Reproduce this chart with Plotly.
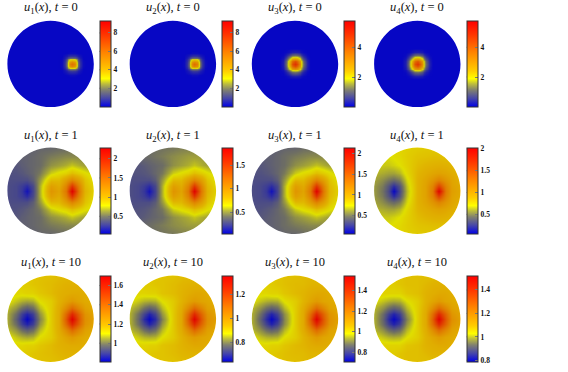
import plotly.graph_objects as go

W, H = 568, 372
DISC_R = 43.2
BAR_LEN = 85.5
CENTERS_X = [50.6, 172.9, 295.0, 417.3]
CENTERS_Y = [63.9, 190.8, 318.7]
BAR_LEFT = [99.5, 222.0, 344.2, 466.7]
TITLE_Y = [8, 136, 263]
TIMES = [0, 1, 10]
SERIF = "Liberation Serif"

# Coordinates of the sampled values (upper half; the fields mirror about y = 0)
X_FIELD = [-1, -.8, -.66, -.54, -.42, -.25, 0, .2, .35, .5, .65, .8, 1]
Y_FIELD = [0, .12, .25, .42, .6, .8, 1]
X_T0_RIGHT = [-1, .17, .25, .33, .37, .4, .45, .5, .55, .6, .63, .67, .75, .83, 1]
Y_T0_RIGHT = [0, .05, .1, .13, .17, .25, .33, 1]
X_T0_CENTER = [-1, -.36, -.28, -.2, -.15, -.11, -.06, 0, .06, .11, .15, .2, .28, .36, 1]
Y_T0_CENTER = [0, .06, .11, .15, .2, .28, .36, 1]

U1_T0 = [[.1, .1, .2, .8, 1.8, 3.2, 5.3, 6, 5.3, 3.2, 1.8, .8, .2, .1, .1],
         [.1, .1, .2, .75, 1.7, 3, 4.8, 5.3, 4.8, 3, 1.7, .75, .2, .1, .1],
         [.1, .1, .15, .6, 1.2, 2.2, 3, 3.2, 3, 2.2, 1.2, .6, .15, .1, .1],
         [.1, .1, .15, .45, .85, 1.2, 1.7, 1.8, 1.7, 1.2, .85, .45, .15, .1, .1],
         [.1, .1, .12, .3, .45, .6, .75, .8, .75, .6, .45, .3, .12, .1, .1],
         [.1, .1, .1, .12, .15, .15, .2, .2, .2, .15, .15, .12, .1, .1, .1],
         [.1, .1, .1, .1, .1, .1, .1, .1, .1, .1, .1, .1, .1, .1, .1],
         [.1, .1, .1, .1, .1, .1, .1, .1, .1, .1, .1, .1, .1, .1, .1]]
U2_T0 = [[.1, .1, .2, .8, 1.8, 3.3, 5.4, 6.1, 5.4, 3.3, 1.8, .8, .2, .1, .1],
         [.1, .1, .2, .75, 1.7, 3.1, 4.9, 5.4, 4.9, 3.1, 1.7, .75, .2, .1, .1],
         [.1, .1, .15, .6, 1.2, 2.2, 3.1, 3.3, 3.1, 2.2, 1.2, .6, .15, .1, .1],
         [.1, .1, .15, .45, .85, 1.2, 1.7, 1.8, 1.7, 1.2, .85, .45, .15, .1, .1],
         [.1, .1, .12, .3, .45, .6, .75, .8, .75, .6, .45, .3, .12, .1, .1],
         [.1, .1, .1, .12, .15, .15, .2, .2, .2, .15, .15, .12, .1, .1, .1],
         [.1, .1, .1, .1, .1, .1, .1, .1, .1, .1, .1, .1, .1, .1, .1],
         [.1, .1, .1, .1, .1, .1, .1, .1, .1, .1, .1, .1, .1, .1, .1]]
U3_T0 = [[.06, .06, .3, 1.1, 2, 3, 4.3, 4.8, 4.3, 3, 2, 1.1, .3, .06, .06],
         [.06, .06, .28, 1, 1.9, 2.8, 3.8, 4.3, 3.8, 2.8, 1.9, 1, .28, .06, .06],
         [.06, .06, .22, .75, 1.4, 2, 2.8, 3, 2.8, 2, 1.4, .75, .22, .06, .06],
         [.06, .06, .15, .5, .95, 1.4, 1.9, 2, 1.9, 1.4, .95, .5, .15, .06, .06],
         [.06, .06, .1, .3, .5, .75, 1, 1.1, 1, .75, .5, .3, .1, .06, .06],
         [.06, .06, .06, .1, .15, .22, .28, .3, .28, .22, .15, .1, .06, .06, .06],
         [.06, .06, .06, .06, .06, .06, .06, .06, .06, .06, .06, .06, .06, .06, .06],
         [.06, .06, .06, .06, .06, .06, .06, .06, .06, .06, .06, .06, .06, .06, .06]]
U4_T0 = [[.06, .06, .3, 1.1, 2, 3, 4.2, 4.7, 4.2, 3, 2, 1.1, .3, .06, .06],
         [.06, .06, .28, 1, 1.9, 2.8, 3.7, 4.2, 3.7, 2.8, 1.9, 1, .28, .06, .06],
         [.06, .06, .22, .75, 1.4, 2, 2.8, 3, 2.8, 2, 1.4, .75, .22, .06, .06],
         [.06, .06, .15, .5, .95, 1.4, 1.9, 2, 1.9, 1.4, .95, .5, .15, .06, .06],
         [.06, .06, .1, .3, .5, .75, 1, 1.1, 1, .75, .5, .3, .1, .06, .06],
         [.06, .06, .06, .1, .15, .22, .28, .3, .28, .22, .15, .1, .06, .06, .06],
         [.06, .06, .06, .06, .06, .06, .06, .06, .06, .06, .06, .06, .06, .06, .06],
         [.06, .06, .06, .06, .06, .06, .06, .06, .06, .06, .06, .06, .06, .06, .06]]

U1_T1 = [[.34, .32, .25, .12, .3, .67, 1.21, 1.1, 1.43, 2.26, 1.43, .99, .85],
         [.34, .32, .27, .21, .32, .67, 1.14, 1.05, 1.34, 1.88, 1.34, .96, .83],
         [.34, .34, .34, .34, .41, .61, .96, .96, 1.14, 1.34, 1.14, .92, .79],
         [.36, .36, .38, .41, .45, .52, .74, .81, .85, .94, .87, .81, .72],
         [.38, .38, .41, .43, .45, .47, .59, .63, .67, .72, .67, .63, .61],
         [.41, .41, .43, .43, .45, .47, .52, .54, .56, .56, .56, .54, .54],
         [.43, .43, .43, .43, .43, .45, .45, .47, .47, .5, .5, .5, .5]]
U2_T1 = [[.28, .26, .2, .1, .24, .55, 1.0, .9, 1.17, 1.85, 1.17, .81, .7],
         [.28, .26, .22, .17, .26, .55, .94, .86, 1.1, 1.54, 1.1, .79, .68],
         [.28, .28, .28, .28, .33, .5, .79, .79, .94, 1.1, .94, .75, .64],
         [.3, .3, .31, .33, .37, .42, .61, .66, .7, .77, .72, .66, .59],
         [.31, .31, .33, .35, .37, .39, .48, .52, .55, .59, .55, .52, .5],
         [.36, .37, .38, .39, .41, .43, .47, .49, .51, .51, .51, .49, .49],
         [.38, .38, .38, .39, .4, .41, .42, .44, .44, .46, .46, .46, .46]]
U3_T1 = [[.33, .31, .25, .12, .29, .64, 1.14, 1.04, 1.35, 2.12, 1.35, .93, .81],
         [.33, .31, .27, .21, .31, .64, 1.08, 1.0, 1.27, 1.77, 1.27, .91, .79],
         [.33, .33, .33, .33, .39, .58, .91, .91, 1.08, 1.27, 1.08, .87, .75],
         [.35, .35, .37, .39, .43, .5, .7, .77, .81, .89, .83, .77, .68],
         [.37, .37, .39, .41, .43, .46, .56, .6, .64, .68, .64, .6, .58],
         [.39, .39, .41, .41, .43, .46, .5, .52, .54, .54, .54, .52, .52],
         [.41, .41, .41, .41, .41, .43, .43, .46, .46, .48, .48, .48, .48]]
U4_T1 = [[.55, .45, .3, .08, .3, .62, .9, 1.0, 1.25, 1.98, 1.25, 1.02, .95],
         [.55, .47, .34, .2, .34, .64, .9, 1.0, 1.2, 1.6, 1.2, 1.0, .93],
         [.58, .52, .46, .42, .48, .68, .9, .98, 1.08, 1.2, 1.08, .98, .9],
         [.62, .6, .58, .58, .62, .74, .88, .93, .97, 1.0, .97, .93, .87],
         [.66, .66, .66, .68, .71, .77, .85, .88, .9, .91, .9, .87, .83],
         [.68, .69, .7, .72, .74, .78, .82, .83, .84, .84, .83, .82, .8],
         [.7, .72, .72, .74, .75, .77, .79, .8, .8, .8, .8, .8, .78]]

U1_T10 = [[1.05, .96, .875, .82, .875, 1.01, 1.14, 1.21, 1.44, 1.69, 1.45, 1.29, 1.24],
          [1.05, .98, .9, .86, .9, 1.03, 1.14, 1.21, 1.4, 1.58, 1.42, 1.28, 1.23],
          [1.07, 1.03, .98, .955, .98, 1.07, 1.14, 1.205, 1.3, 1.4, 1.31, 1.24, 1.21],
          [1.11, 1.08, 1.06, 1.05, 1.06, 1.11, 1.14, 1.19, 1.23, 1.26, 1.23, 1.21, 1.2],
          [1.12, 1.12, 1.12, 1.13, 1.13, 1.15, 1.17, 1.19, 1.2, 1.21, 1.21, 1.2, 1.2],
          [1.13, 1.13, 1.14, 1.14, 1.15, 1.16, 1.17, 1.18, 1.19, 1.19, 1.19, 1.19, 1.19],
          [1.14, 1.14, 1.14, 1.15, 1.15, 1.16, 1.16, 1.17, 1.17, 1.18, 1.18, 1.18, 1.18]]
U2_T10 = [[.84, .77, .69, .65, .69, .8, .91, .97, 1.15, 1.35, 1.16, 1.03, .99],
          [.84, .78, .72, .68, .72, .82, .91, .97, 1.12, 1.26, 1.13, 1.02, .98],
          [.85, .82, .78, .76, .78, .85, .91, .96, 1.04, 1.12, 1.05, .99, .97],
          [.88, .86, .845, .84, .845, .88, .91, .945, .98, 1.0, .98, .97, .95],
          [.895, .895, .895, .9, .9, .92, .93, .945, .96, .97, .97, .96, .95],
          [.9, .9, .91, .91, .916, .92, .93, .94, .945, .945, .945, .945, .945],
          [.91, .91, .91, .916, .916, .92, .92, .93, .93, .94, .94, .94, .94]]
U3_T10 = [[.94, .85, .77, .72, .77, .9, 1.02, 1.09, 1.3, 1.54, 1.31, 1.16, 1.11],
          [.94, .87, .8, .755, .8, .91, 1.02, 1.09, 1.26, 1.43, 1.28, 1.15, 1.1],
          [.95, .91, .87, .85, .87, .95, 1.02, 1.08, 1.17, 1.26, 1.18, 1.11, 1.09],
          [.99, .96, .945, .94, .945, .99, 1.02, 1.06, 1.1, 1.13, 1.1, 1.09, 1.07],
          [1.0, 1.0, 1.0, 1.01, 1.01, 1.03, 1.05, 1.06, 1.08, 1.09, 1.09, 1.08, 1.07],
          [1.01, 1.01, 1.02, 1.02, 1.03, 1.04, 1.05, 1.05, 1.06, 1.06, 1.06, 1.06, 1.06],
          [1.02, 1.02, 1.02, 1.03, 1.03, 1.04, 1.04, 1.05, 1.05, 1.05, 1.05, 1.05, 1.05]]
U4_T10 = [[.99, .92, .84, .8, .84, .95, 1.06, 1.12, 1.3, 1.51, 1.315, 1.185, 1.14],
          [.99, .93, .865, .83, .865, .97, 1.06, 1.12, 1.27, 1.42, 1.286, 1.17, 1.13],
          [1.0, .967, .93, .91, .93, 1.0, 1.06, 1.11, 1.19, 1.27, 1.2, 1.14, 1.12],
          [1.03, 1.01, .996, .99, .996, 1.03, 1.06, 1.1, 1.13, 1.155, 1.13, 1.12, 1.105],
          [1.05, 1.05, 1.05, 1.05, 1.05, 1.07, 1.08, 1.1, 1.11, 1.12, 1.12, 1.11, 1.105],
          [1.05, 1.05, 1.06, 1.06, 1.07, 1.08, 1.08, 1.09, 1.1, 1.1, 1.1, 1.1, 1.1],
          [1.06, 1.06, 1.06, 1.07, 1.07, 1.08, 1.08, 1.08, 1.08, 1.09, 1.09, 1.09, 1.09]]

FIELDS = [[U1_T0, U2_T0, U3_T0, U4_T0],
          [U1_T1, U2_T1, U3_T1, U4_T1],
          [U1_T10, U2_T10, U3_T10, U4_T10]]
COLOR_RANGES = [[(0, 9.28), (0, 9.28), (0, 5.76), (0, 5.76)],
                [(.05, 2.28), (.04, 1.87), (.06, 2.14), (.06, 2.02)],
                [(.81, 1.70), (.64, 1.36), (.71, 1.545), (.79, 1.52)]]
TICKS = [[[2, 4, 6, 8], [2, 4, 6, 8], [2, 4], [2, 4]],
         [[.5, 1, 1.5, 2], [.5, 1, 1.5], [.5, 1, 1.5, 2], [.5, 1, 1.5, 2]],
         [[1, 1.2, 1.4, 1.6], [.8, 1, 1.2], [.8, 1, 1.2, 1.4], [.8, 1, 1.2, 1.4]]]

COLORSCALE = [[0, "rgb(0,0,230)"], [.1, "rgb(70,70,170)"], [.2, "rgb(130,130,110)"],
              [.27, "rgb(190,190,60)"], [.33, "rgb(255,255,0)"], [.42, "rgb(255,205,0)"],
              [.64, "rgb(255,130,0)"], [.85, "rgb(255,50,0)"], [1, "rgb(255,0,0)"]]


def mirrored(rows):
    return rows[:0:-1] + rows


def mirrored_y(ys):
    return [-v for v in ys[:0:-1]] + ys


fig = go.Figure()
layout = dict(width=W, height=H, margin=dict(l=0, r=0, t=0, b=0),
              paper_bgcolor="white", plot_bgcolor="white", showlegend=False)
shapes, annotations = [], []
SPAN = 1.06
K = .5523  # Bezier handle length of a quarter circle
CIRCLE = (f"M -1,0 C -1,{K} {-K},1 0,1 C {K},1 1,{K} 1,0 "
          f"C 1,{-K} {K},-1 0,-1 C {-K},-1 -1,{-K} -1,0 Z")
MASK = f"M {-SPAN},{-SPAN} L {SPAN},{-SPAN} L {SPAN},{SPAN} L {-SPAN},{SPAN} Z " + CIRCLE
n = 0
for r, t in enumerate(TIMES):
    for c in range(4):
        n += 1
        suffix = "" if n == 1 else str(n)
        cx, cy = CENTERS_X[c], CENTERS_Y[r]
        half = DISC_R * SPAN
        if t == 0:
            xs = X_T0_RIGHT if c < 2 else X_T0_CENTER
            ys = Y_T0_RIGHT if c < 2 else Y_T0_CENTER
        else:
            xs, ys = X_FIELD, Y_FIELD
        zmin, zmax = COLOR_RANGES[r][c]
        ticks = TICKS[r][c]
        fig.add_trace(go.Heatmap(
            x=xs, y=mirrored_y(ys), z=mirrored(FIELDS[r][c]),
            xaxis="x" + suffix, yaxis="y" + suffix,
            zsmooth="best", zmin=zmin, zmax=zmax, colorscale=COLORSCALE,
            colorbar=dict(
                x=BAR_LEFT[c] / W, xanchor="left", xpad=0, ypad=0,
                y=1 - cy / H, yanchor="middle",
                len=BAR_LEN / H, lenmode="fraction",
                thickness=11, thicknessmode="pixels",
                outlinecolor="#333333", outlinewidth=1,
                ticks="inside", ticklen=3, tickcolor="#777777", tickwidth=1,
                tickvals=ticks, ticktext=[f"{v:g}" for v in ticks],
                tickfont=dict(family=SERIF, size=7.5, color="#111111", weight="bold"),
            ),
        ))
        x0, x1 = (cx - half) / W, (cx + half) / W
        y0, y1 = 1 - (cy + half) / H, 1 - (cy - half) / H
        layout["xaxis" + suffix] = dict(domain=[x0, x1], range=[-SPAN, SPAN],
                                        visible=False, fixedrange=True)
        layout["yaxis" + suffix] = dict(domain=[y0, y1], range=[-SPAN, SPAN],
                                        visible=False, fixedrange=True)
        shapes.append(dict(type="path", xref="x" + suffix, yref="y" + suffix, layer="above",
                           line=dict(width=0), fillcolor="rgba(0,0,0,0.12)", path=CIRCLE))
        shapes.append(dict(type="path", xref="x" + suffix, yref="y" + suffix, layer="above",
                           line=dict(width=0), fillcolor="white", path=MASK))
        shapes.append(dict(type="rect", xref="paper", yref="paper", layer="above",
                           x0=x0, x1=x1, y0=y0, y1=y1, fillcolor="rgba(0,0,0,0)",
                           line=dict(color="white", width=3)))
        # the reference repeats each colour bar tick on the bar's left edge
        for v in ticks:
            tick_y = 1 - (cy + BAR_LEN / 2 - BAR_LEN * (v - zmin) / (zmax - zmin)) / H
            shapes.append(dict(type="line", xref="paper", yref="paper", layer="above",
                               x0=BAR_LEFT[c] / W, x1=(BAR_LEFT[c] + 3) / W,
                               y0=tick_y, y1=tick_y, line=dict(color="#777777", width=1)))
        annotations.append(dict(
            x=cx / W, y=1 - TITLE_Y[r] / H, xref="paper", yref="paper",
            xanchor="center", yanchor="middle", showarrow=False,
            text=f"<i>u</i><sub>{c + 1}</sub>(<i>x</i>), <i>t</i> = {t}",
            font=dict(family=SERIF, size=12.5, color="#111111"),
        ))
layout["shapes"] = shapes
layout["annotations"] = annotations
fig.update_layout(**layout)
fig.write_html("out.html", config={"displayModeBar": False},
               post_script="document.body.style.margin='0';")
